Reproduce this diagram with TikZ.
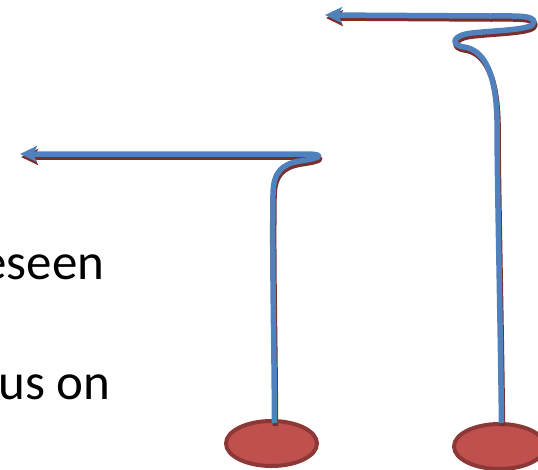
\documentclass[tikz,border=0pt]{standalone}
\usepackage{fontspec}
\setmainfont{Carlito}
\usetikzlibrary{arrows.meta,shapes.geometric}

\definecolor{lineblue}{HTML}{4F81BD}
\definecolor{shadowred}{HTML}{7A2E2C}
\definecolor{basefill}{HTML}{C0504D}
\definecolor{basedraw}{HTML}{8C3836}

\begin{document}
\begin{tikzpicture}[
    x=1pt, y=-1pt,
    >={Stealth[length=17pt,width=16pt,inset=4pt]},
    base/.style={
        ellipse,
        draw=basedraw,
        fill=basefill,
        line width=4pt,
        minimum width=91pt,
        minimum height=45pt,
        inner sep=0pt
    },
    flow/.style={
        ->,
        draw=#1,
        line width=5.5pt,
        line join=round
    },
    slidetext/.style={
        font=\fontsize{51}{61}\selectfont,
        anchor=base east,
        inner sep=0pt
    }
]
\useasboundingbox (0,0) rectangle (538,469);
\clip (0,0) rectangle (538,469);

% Text cut at the left edge
\node[slidetext] (foreseen) at (104.5,279) {foreseen};
\node[slidetext] (focus) at (110.5,399) {focus on};

% Bases
\node[base] (baseA) at (271.5,443.5) {};
\node[base] (baseB) at (499.5,446.5) {};

% Arrow ends
\coordinate (tipA) at (20,154);
\coordinate (tipB) at (325,15);

% Stems, shadow first
\foreach \col/\dx/\dy in {shadowred/1/-3, lineblue/0/0} {
  \begin{scope}[transform canvas={xshift=\dx pt,yshift=\dy pt}]
    \draw[flow=\col] ([xshift=3pt,yshift=-4pt]baseA.north)
        .. controls (274,330) and (272,260) .. (273,195)
        .. controls (273,172) and (282,164) .. (300,161)
        .. controls (322,158) and (326,154) .. (305,154)
        -- (tipA);
    \draw[flow=\col] ([xshift=2pt,yshift=-1pt]baseB.north)
        .. controls (500,300) and (497,180) .. (497,120)
        .. controls (496,75) and (485,50) .. (464,47)
        .. controls (450,45) and (452,35) .. (472,33)
        .. controls (500,30) and (534,30) .. (534,22)
        .. controls (534,15) and (515,16) .. (490,16)
        -- (tipB);
  \end{scope}
}

\end{tikzpicture}
\end{document}
